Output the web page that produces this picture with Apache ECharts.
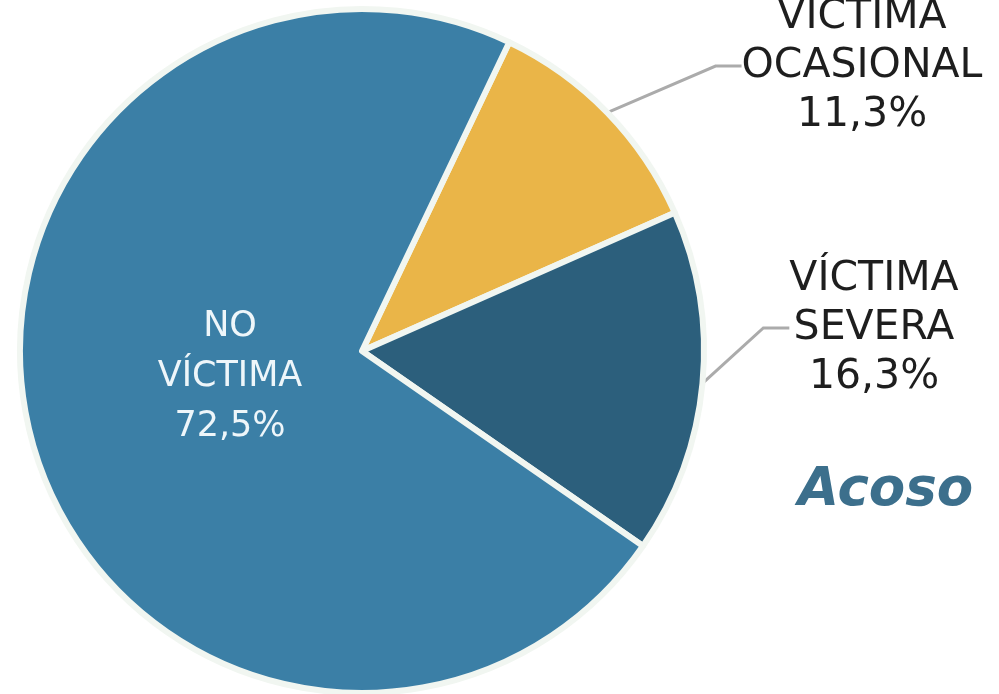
<!DOCTYPE html>
<html>
<head>
<meta charset="utf-8">
<script src="https://cdn.jsdelivr.net/npm/echarts@6/dist/echarts.min.js"></script>
<style>
  html, body { margin: 0; padding: 0; background: #ffffff; }
  #chart { width: 999px; height: 694px; }
</style>
</head>
<body>
<div id="chart"></div>
<script>
// Categories and shares (%) of the harassment chart
const categories = ['VÍCTIMA OCASIONAL', 'VÍCTIMA SEVERA', 'NO VÍCTIMA'];
const shares = [11.3, 16.3, 72.5];
const sliceColors = ['#eab548', '#2c5f7c', '#3b7fa6'];
const chartTitle = 'Acoso';

// Where each label sits (text centre) in the canvas
const labelSpots = {
  'VÍCTIMA OCASIONAL': { x: 862, y: 66 },
  'VÍCTIMA SEVERA': { x: 874, y: 328 },
  'NO VÍCTIMA': { x: 230, y: 377 }
};

const fmt = v => v.toFixed(1).replace('.', ',') + '%';

const chart = echarts.init(document.getElementById('chart'), null, { renderer: 'canvas' });

chart.setOption({
  animation: false,
  backgroundColor: '#ffffff',
  title: {
    text: chartTitle,
    left: 793,
    top: 460,
    textStyle: {
      fontFamily: 'DejaVu Sans',
      fontSize: 53,
      fontWeight: 'bold',
      fontStyle: 'italic',
      color: '#3c6f8c'
    }
  },
  series: [{
    type: 'pie',
    center: [362, 351],
    radius: [0, 342],
    startAngle: 64.5,
    clockwise: true,
    avoidLabelOverlap: false,
    itemStyle: {
      borderColor: '#f1f6f1',
      borderWidth: 6
    },
    label: {
      show: true,
      position: 'outside',
      formatter: p => p.name.replace(' ', '\n') + '\n' + fmt(p.value),
      fontFamily: 'DejaVu Sans',
      fontSize: 41,
      lineHeight: 49,
      color: '#1e1e1e',
      align: 'center'
    },
    labelLine: {
      show: true,
      length: 40,
      length2: 26,
      lineStyle: { color: '#ababab', width: 3 }
    },
    labelLayout: params => {
      const spot = labelSpots[categories[params.dataIndex]];
      return { x: spot.x, y: spot.y, align: 'center', verticalAlign: 'middle' };
    },
    data: categories.map((name, i) => {
      const item = {
        name: name,
        value: shares[i],
        itemStyle: { color: sliceColors[i] }
      };
      if (name === 'NO VÍCTIMA') {
        item.label = {
          position: 'inside',
          color: '#eef6fa',
          fontSize: 35,
          fontWeight: 500,
          lineHeight: 50
        };
        item.labelLine = { show: false };
      }
      return item;
    })
  }]
});
</script>
</body>
</html>
